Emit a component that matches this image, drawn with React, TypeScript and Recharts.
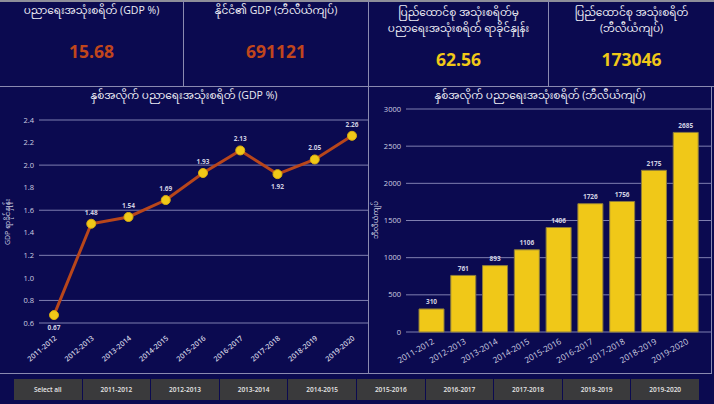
import React from "react";
import {
  LineChart,
  Line,
  BarChart,
  Bar,
  XAxis,
  YAxis,
  CartesianGrid,
  LabelList,
} from "recharts";

// 데이터
const years = [
  "2011-2012",
  "2012-2013",
  "2013-2014",
  "2014-2015",
  "2015-2016",
  "2016-2017",
  "2017-2018",
  "2018-2019",
  "2019-2020",
];
const gdpShare = [0.67, 1.48, 1.54, 1.69, 1.93, 2.13, 1.92, 2.05, 2.26];
const eduSpend = [310, 761, 893, 1106, 1406, 1726, 1756, 2175, 2685];
const gdpTicks = [0.6, 0.8, 1.0, 1.2, 1.4, 1.6, 1.8, 2.0, 2.2, 2.4];
const spendTicks = [0, 500, 1000, 1500, 2000, 2500, 3000];

const kpiTitles = [
  ["ပညာရေးအသုံးစရိတ် (GDP %)"],
  ["နိုင်ငံ၏ GDP (ဘီလီယံကျပ်)"],
  ["ပြည်ထောင်စု အသုံးစရိတ်မှ", "ပညာရေးအသုံးစရိတ် ရာခိုင်နှုန်း"],
  ["ပြည်ထောင်စု အသုံးစရိတ်", "(ဘီလီယံကျပ်)"],
];
const kpiValues = ["15.68", "691121", "62.56", "173046"];
const slicerItems = ["Select all", ...years];

const NAVY = "#0b0a50";
const BORDER = "#8a8ab0";
const GRID = "#7f7fb0";
const TICK = "#cfcfe0";
const YELLOW = "#f0c818";
const RUST = "#b8461b";
const FONT = '"Open Sans", "Noto Sans", "Noto Sans Myanmar", sans-serif';

const lineData = years.map((year, i) => ({ year, value: gdpShare[i] }));
const barData = years.map((year, i) => ({ year, value: eduSpend[i] }));

// 라인 라벨: 최저점과 하락 지점은 아래쪽
const renderGdpLabel = (p: any) => {
  const idx = gdpShare.indexOf(Number(p.value));
  const below = idx === 0 || idx === 6;
  return (
    <text
      x={p.x}
      y={below ? p.y + 15 : p.y - 9}
      textAnchor="middle"
      fontSize={6.5}
      fontWeight={700}
      fill={TICK}
      fontFamily={FONT}
    >
      {Number(p.value).toFixed(2)}
    </text>
  );
};

const renderSpendLabel = (p: any) => (
  <text
    x={p.x + p.width / 2}
    y={p.y - 4.5}
    textAnchor="middle"
    fontSize={6.5}
    fontWeight={700}
    fill={TICK}
    fontFamily={FONT}
  >
    {p.value}
  </text>
);

const line = (s: React.CSSProperties) => (
  <div style={{ position: "absolute", background: BORDER, ...s }} />
);

export default function App() {
  return (
    <div
      style={{
        position: "absolute",
        top: 0,
        left: 0,
        width: 714,
        height: 404,
        background: NAVY,
        fontFamily: FONT,
        overflow: "hidden",
      }}
    >
      {/* 테두리 */}
      <div style={{ position: "absolute", left: 0, top: 0, width: 714, height: 2, background: "#8e8e9a" }} />
      {line({ left: 183, top: 0, width: 1, height: 86 })}
      {line({ left: 368, top: 0, width: 1, height: 373 })}
      {line({ left: 548, top: 0, width: 1, height: 86 })}
      {line({ left: 0, top: 86, width: 714, height: 1 })}
      {line({ left: 0, top: 373, width: 712, height: 1 })}
      {line({ left: 711, top: 86, width: 1, height: 288 })}

      {/* KPI 카드 */}
      {kpiValues.map((v, i) => {
        const bounds = [
          [0, 183],
          [184, 368],
          [369, 548],
          [549, 714],
        ][i];
        const twoLine = kpiTitles[i].length > 1;
        return (
          <div
            key={i}
            style={{
              position: "absolute",
              left: bounds[0],
              top: 0,
              width: bounds[1] - bounds[0],
              height: 86,
              textAlign: "center",
              color: "#ececf4",
            }}
          >
            {kpiTitles[i].map((t, j) => (
              <div
                key={j}
                style={{
                  position: "absolute",
                  left: 0,
                  right: 0,
                  top: twoLine ? 4 + j * 16 : 2,
                  fontSize: 10.5,
                  lineHeight: "16px",
                  whiteSpace: "nowrap",
                }}
              >
                {t}
              </div>
            ))}
            <div
              style={{
                position: "absolute",
                left: 0,
                right: 0,
                top: twoLine ? 47 : 39,
                fontSize: 17.5,
                lineHeight: "24px",
                fontWeight: 700,
                color: i < 2 ? "#c0461c" : YELLOW,
              }}
            >
              {v}
            </div>
          </div>
        );
      })}

      {/* 차트 제목 */}
      <div style={{ position: "absolute", left: 0, width: 368, top: 87, textAlign: "center", color: "#ececf4", fontSize: 10.5, lineHeight: "16px" }}>
        နှစ်အလိုက် ပညာရေးအသုံးစရိတ် (GDP %)
      </div>
      <div style={{ position: "absolute", left: 369, width: 342, top: 87, textAlign: "center", color: "#ececf4", fontSize: 10.5, lineHeight: "16px" }}>
        နှစ်အလိုက် ပညာရေးအသုံးစရိတ် (ဘီလီယံကျပ်)
      </div>

      {/* 라인 차트 */}
      <div style={{ position: "absolute", left: 0, top: 86 }}>
        <LineChart width={369} height={287} data={lineData} margin={{ top: 34, right: 1, bottom: 0, left: 0 }}>
          <CartesianGrid vertical={false} stroke={GRID} />
          <XAxis
            dataKey="year"
            padding={{ left: 15, right: 16 }}
            axisLine={false}
            tickLine={false}
            tickSize={0}
            tickMargin={12}
            interval={0}
            angle={-40}
            textAnchor="end"
            height={50}
            tick={{ fill: TICK, fontSize: 7.3, fontWeight: 600, fontFamily: FONT }}
          />
          <YAxis
            width={39}
            domain={[0.6, 2.4]}
            ticks={gdpTicks}
            axisLine={false}
            tickLine={false}
            tickSize={0}
            tickMargin={5}
            tickFormatter={(v: number) => v.toFixed(1)}
            tick={{ fill: TICK, fontSize: 7.5, fontFamily: FONT }}
          />
          <Line
            dataKey="value"
            stroke={RUST}
            strokeWidth={3}
            dot={{ r: 4.5, fill: YELLOW, stroke: "#d9ac10", strokeWidth: 1 }}
            isAnimationActive={false}
          >
            <LabelList dataKey="value" content={renderGdpLabel} />
          </Line>
        </LineChart>
      </div>
      <div
        style={{
          position: "absolute",
          left: 8,
          top: 222,
          transform: "translate(-50%, -50%) rotate(-90deg)",
          color: TICK,
          fontSize: 7,
          whiteSpace: "nowrap",
        }}
      >
        GDP ရာခိုင်နှုန်း
      </div>

      {/* 막대 차트 */}
      <div style={{ position: "absolute", left: 369, top: 86 }}>
        <BarChart width={343} height={287} data={barData} margin={{ top: 23, right: 0, bottom: 0, left: 0 }}>
          <CartesianGrid vertical={false} stroke={GRID} />
          <XAxis
            dataKey="year"
            padding={{ left: 10, right: 10 }}
            axisLine={false}
            tickLine={false}
            tickSize={0}
            tickMargin={6}
            interval={0}
            angle={-30}
            textAnchor="end"
            height={41}
            tick={{ fill: TICK, fontSize: 8.3, fontFamily: FONT }}
          />
          <YAxis
            width={37}
            domain={[0, 3000]}
            ticks={spendTicks}
            axisLine={false}
            tickLine={false}
            tickSize={0}
            tickMargin={5}
            tick={{ fill: TICK, fontSize: 7.5, fontFamily: FONT }}
          />
          <Bar dataKey="value" barSize={25} fill={YELLOW} stroke="#8c7c3c" strokeWidth={1} isAnimationActive={false}>
            <LabelList dataKey="value" content={renderSpendLabel} />
          </Bar>
        </BarChart>
      </div>
      <div
        style={{
          position: "absolute",
          left: 376,
          top: 220,
          transform: "translate(-50%, -50%) rotate(-90deg)",
          color: TICK,
          fontSize: 7,
          whiteSpace: "nowrap",
        }}
      >
        ဘီလီယံကျပ်
      </div>

      {/* 슬라이서 */}
      {slicerItems.map((s, i) => (
        <div
          key={s}
          style={{
            position: "absolute",
            top: 379,
            left: 14 + i * 68.6,
            width: 67.6,
            height: 21,
            background: "#3a3a3c",
            color: "#e6e6e6",
            fontSize: 6.5,
            fontWeight: 600,
            lineHeight: "21px",
            textAlign: "center",
          }}
        >
          {s}
        </div>
      ))}
    </div>
  );
}
